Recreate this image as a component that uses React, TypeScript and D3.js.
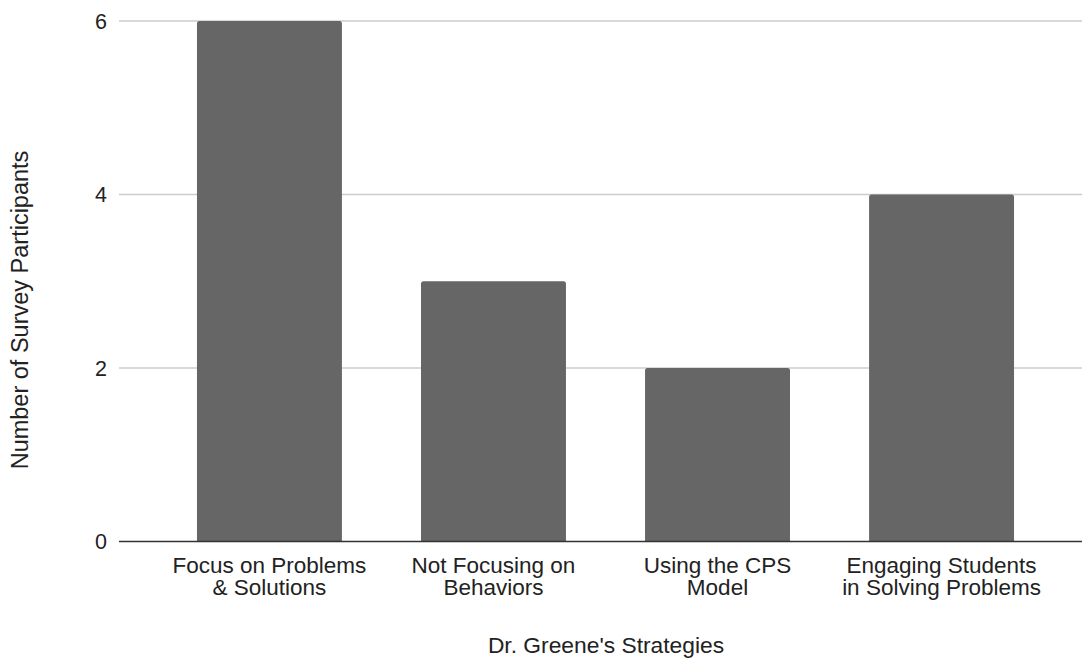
import React from "react";
import * as d3 from "d3";

const categories: string[][] = [
  ["Focus on Problems", "& Solutions"],
  ["Not Focusing on", "Behaviors"],
  ["Using the CPS", "Model"],
  ["Engaging Students", "in Solving Problems"],
];
const participants: number[] = [6, 3, 2, 4];
const yTicks: number[] = [0, 2, 4, 6];
const xTitle = "Dr. Greene's Strategies";
const yTitle = "Number of Survey Participants";

const W = 1082;
const H = 659;
const FONT = "Arial, 'Liberation Sans', sans-serif";

export default function App() {
  const keys = categories.map((_, i) => String(i));
  const x = d3
    .scaleBand<string>()
    .domain(keys)
    .range([119, 1092])
    .paddingInner(0.353)
    .paddingOuter(0.348);
  const y = d3.scaleLinear().domain([0, 6]).range([541.5, 21]);

  const barPath = (x0: number, w: number, y0: number, y1: number, r: number) => {
    const p = d3.path();
    p.moveTo(x0, y1);
    p.lineTo(x0, y0 + r);
    p.arcTo(x0, y0, x0 + r, y0, r);
    p.lineTo(x0 + w - r, y0);
    p.arcTo(x0 + w, y0, x0 + w, y0 + r, r);
    p.lineTo(x0 + w, y1);
    p.closePath();
    return p.toString();
  };

  return (
    <svg
      width={W}
      height={H}
      style={{ position: "absolute", left: 0, top: 0, background: "#fff" }}
      fontFamily={FONT}
    >
      {yTicks.map((t) => (
        <g key={t}>
          {t !== 0 && (
            <line x1={119} x2={W} y1={y(t)} y2={y(t)} stroke="#cccccc" strokeWidth={1.3} />
          )}
          <text
            x={107}
            y={y(t)}
            dy="0.35em"
            textAnchor="end"
            fontSize={21.5}
            fill="#222"
          >
            {t}
          </text>
        </g>
      ))}
      {participants.map((v, i) => (
        <path
          key={i}
          d={barPath(x(keys[i])!, x.bandwidth(), y(v), y(0), 2.5)}
          fill="#666666"
        />
      ))}
      <line x1={119} x2={W} y1={y(0)} y2={y(0)} stroke="#333333" strokeWidth={1.6} />
      {categories.map((lines, i) => (
        <text
          key={i}
          x={x(keys[i])! + x.bandwidth() / 2}
          y={572.5}
          textAnchor="middle"
          fontSize={22.5}
          fill="#222"
        >
          {lines.map((l, j) => (
            <tspan key={j} x={x(keys[i])! + x.bandwidth() / 2} dy={j === 0 ? 0 : 22.5}>
              {l}
            </tspan>
          ))}
        </text>
      ))}
      <text x={606} y={653} textAnchor="middle" fontSize={22.8} fill="#222">
        {xTitle}
      </text>
      <text
        transform={`translate(28,310) rotate(-90)`}
        textAnchor="middle"
        fontSize={23.5}
        fill="#222"
      >
        {yTitle}
      </text>
    </svg>
  );
}
